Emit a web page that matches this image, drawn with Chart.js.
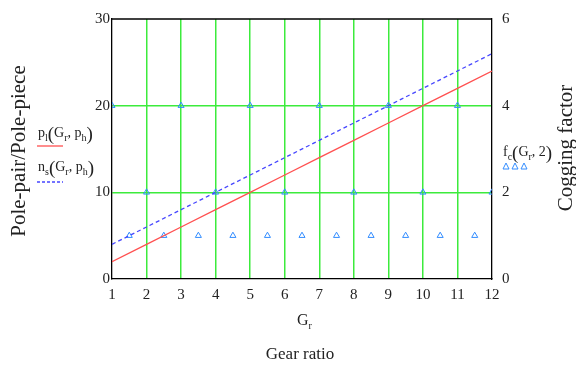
<!DOCTYPE html>
<html>
<head>
<meta charset="utf-8">
<script src="https://cdn.jsdelivr.net/npm/chart.js@4.4.0/dist/chart.umd.min.js"></script>
<style>
  html, body { margin: 0; padding: 0; background: #fff; }
  #wrap { width: 576px; height: 365px; position: relative; }
</style>
</head>
<body>
<div id="wrap"><canvas id="gearChart"></canvas></div>
<script>
// ======== DATA ========
const gearRatio = [1, 2, 3, 4, 5, 6, 7, 8, 9, 10, 11, 12];
const polePairs = [2, 4, 6, 8, 10, 12, 14, 16, 18, 20, 22, 24];      // p_l
const polePieces = [4, 6, 8, 10, 12, 14, 16, 18, 20, 22, 24, 26];    // n_s
const coggingX = [1, 1.5, 2, 2.5, 3, 3.5, 4, 4.5, 5, 5.5, 6, 6.5, 7, 7.5, 8, 8.5, 9, 9.5, 10, 10.5, 11, 11.5, 12];
const coggingY = [4, 1, 2, 1, 4, 1, 2, 1, 4, 1, 2, 1, 4, 1, 2, 1, 4, 1, 2, 1, 4, 1, 2];
const leftTicks = [0, 10, 20, 30];
const rightTicks = [0, 2, 4, 6];

const SERIF = '"Liberation Serif", "DejaVu Serif", serif';
const GREEN = 'rgb(60, 235, 60)';
const RED = 'rgb(255, 80, 80)';
const BLUE = 'rgb(70, 70, 255)';
const TRI = 'rgb(50, 140, 255)';

function toPoints(xs, ys) {
    return xs.map((x, i) => ({ x: x, y: ys[i] }));
}

// Vẽ chữ kiểu Mathcad: chữ thường + chỉ số dưới
function drawMath(ctx, x, y, parts, color) {
    ctx.save();
    ctx.fillStyle = color || '#222';
    ctx.textBaseline = 'alphabetic';
    ctx.textAlign = 'left';
    parts.forEach(p => {
        ctx.font = p.size + 'px ' + SERIF;
        ctx.fillText(p.t, x, y + (p.dy || 0));
        x += ctx.measureText(p.t).width + (p.gap || 0);
    });
    ctx.restore();
}

function sub(t) { return { t: t, size: 10, dy: 4 }; }
function txt(t) { return { t: t, size: 14 }; }
function par(t) { return { t: t, size: 19, dy: 3 }; }

const extraText = {
    id: 'extraText',
    afterDraw(chart) {
        const ctx = chart.ctx;
        const a = chart.chartArea;
        ctx.save();
        // khung trên cùng
        ctx.strokeStyle = '#000';
        ctx.lineWidth = 1.3;
        ctx.beginPath();
        ctx.moveTo(a.left, a.top);
        ctx.lineTo(a.right, a.top);
        ctx.stroke();

        ctx.fillStyle = '#222';
        // tiêu đề trục trái
        ctx.font = '21px ' + SERIF;
        ctx.textAlign = 'center';
        ctx.textBaseline = 'middle';
        ctx.save();
        ctx.translate(19, 151);
        ctx.rotate(-Math.PI / 2);
        ctx.fillText('Pole-pair/Pole-piece', 0, 0);
        ctx.restore();
        // tiêu đề trục phải
        ctx.save();
        ctx.translate(566, 148);
        ctx.rotate(-Math.PI / 2);
        ctx.fillText('Cogging factor', 0, 0);
        ctx.restore();

        // tiêu đề trục x
        ctx.font = '17px ' + SERIF;
        ctx.fillText('Gear ratio', 300, 355);
        ctx.restore();
        drawMath(ctx, 297, 325, [{ t: 'G', size: 16 }, sub('r')]);

        // chú thích bên trái
        drawMath(ctx, 38, 137, [txt('p'), sub('l'), par('('), txt('G'), sub('r'), txt(', '), txt('p'), sub('h'), par(')')]);
        ctx.save();
        ctx.strokeStyle = RED;
        ctx.lineWidth = 1.3;
        ctx.beginPath();
        ctx.moveTo(37, 146);
        ctx.lineTo(63, 146);
        ctx.stroke();
        ctx.restore();

        drawMath(ctx, 38, 171, [txt('n'), sub('s'), par('('), txt('G'), sub('r'), txt(', '), txt('p'), sub('h'), par(')')]);
        ctx.save();
        ctx.strokeStyle = BLUE;
        ctx.lineWidth = 1.3;
        ctx.setLineDash([3, 2]);
        ctx.beginPath();
        ctx.moveTo(37, 182);
        ctx.lineTo(63, 182);
        ctx.stroke();
        ctx.restore();

        // chú thích bên phải
        drawMath(ctx, 503, 156, [txt('f'), sub('c'), par('('), txt('G'), sub('r'), txt(', 2'), par(')')]);
        ctx.save();
        ctx.strokeStyle = TRI;
        ctx.lineWidth = 1;
        [506, 515, 524].forEach(cx => {
            ctx.beginPath();
            ctx.moveTo(cx, 163);
            ctx.lineTo(cx + 3, 169);
            ctx.lineTo(cx - 3, 169);
            ctx.closePath();
            ctx.stroke();
        });
        ctx.restore();
    }
};

const tickFont = { family: SERIF, size: 15 };

const chart = new Chart(document.getElementById('gearChart'), {
    type: 'scatter',
    data: {
        datasets: [
            {
                label: 'p_l',
                data: toPoints(gearRatio, polePairs),
                showLine: true,
                borderColor: RED,
                borderWidth: 1.3,
                pointRadius: 0,
                yAxisID: 'y'
            },
            {
                label: 'n_s',
                data: toPoints(gearRatio, polePieces),
                showLine: true,
                borderColor: BLUE,
                borderWidth: 1.3,
                borderDash: [4, 3],
                pointRadius: 0,
                yAxisID: 'y'
            },
            {
                label: 'f_c',
                data: toPoints(coggingX, coggingY),
                showLine: false,
                pointStyle: 'triangle',
                pointRadius: 3.5,
                borderColor: TRI,
                borderWidth: 1,
                backgroundColor: 'rgba(0,0,0,0)',
                yAxisID: 'y2'
            }
        ]
    },
    options: {
        responsive: true,
        maintainAspectRatio: false,
        animation: false,
        layout: { padding: { top: 19, left: 0, right: 0, bottom: 0 } },
        plugins: {
            legend: { display: false },
            tooltip: { enabled: false }
        },
        scales: {
            x: {
                type: 'linear',
                min: 1,
                max: 12,
                afterFit: s => { s.height = 86; },
                ticks: { stepSize: 1, color: '#222', font: tickFont, padding: 7, maxRotation: 0 },
                grid: {
                    drawTicks: false,
                    lineWidth: 1.5,
                    color: c => (c.tick && (c.tick.value === 1 || c.tick.value === 12)) ? 'rgba(0,0,0,0)' : GREEN
                },
                border: { display: true, color: '#000', width: 1.3 }
            },
            y: {
                position: 'left',
                min: 0,
                max: 30,
                afterFit: s => { s.width = 112; },
                afterBuildTicks: s => { s.ticks = leftTicks.map(v => ({ value: v })); },
                ticks: { color: '#222', font: tickFont, padding: 2 },
                grid: {
                    drawTicks: false,
                    lineWidth: 1.5,
                    color: c => (c.tick && (c.tick.value === 0 || c.tick.value === 30)) ? 'rgba(0,0,0,0)' : GREEN
                },
                border: { display: true, color: '#000', width: 1.3 }
            },
            y2: {
                position: 'right',
                min: 0,
                max: 6,
                afterFit: s => { s.width = 84; },
                afterBuildTicks: s => { s.ticks = rightTicks.map(v => ({ value: v })); },
                ticks: { color: '#222', font: tickFont, padding: 2 },
                grid: { display: false, drawOnChartArea: false },
                border: { display: true, color: '#000', width: 1.3 }
            }
        }
    },
    plugins: [extraText]
});
</script>
</body>
</html>
